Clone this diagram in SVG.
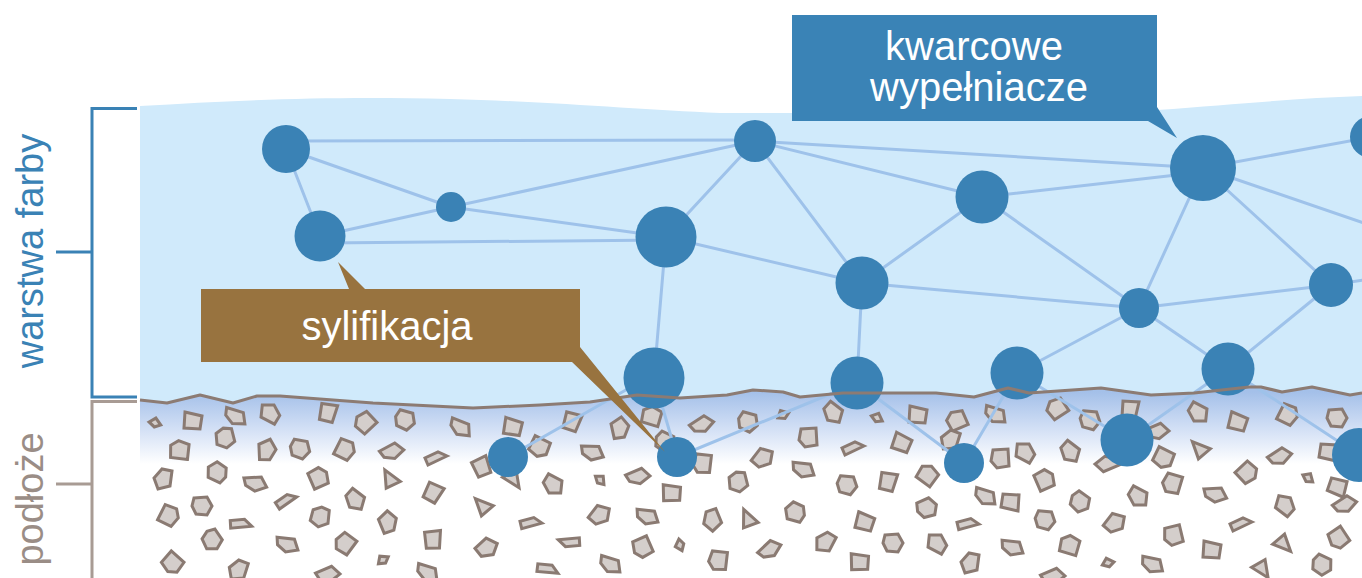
<svg xmlns="http://www.w3.org/2000/svg" xmlns:xlink="http://www.w3.org/1999/xlink" width="1362" height="578" viewBox="0 0 1362 578">
  <style>
    .filler { fill: #3a82b5; }
    .bond { stroke: #9ec2ea; stroke-width: 3; fill: none; stroke-linecap: round; }
    .peb { fill: #d4cecb; stroke: #8a7a72; stroke-width: 3; stroke-linejoin: miter; }
    .lbl { font-family: "Liberation Sans", Arial, sans-serif; }
    .callout-text { fill: #ffffff; font-size: 40px; text-anchor: middle; }
  </style>
  <defs>
    <linearGradient id="penetration" gradientUnits="userSpaceOnUse" x1="0" y1="392" x2="0" y2="464">
      <stop offset="0" stop-color="#a4c0e9"/>
      <stop offset="0.55" stop-color="#d6e2f6"/>
      <stop offset="1" stop-color="#ffffff"/>
    </linearGradient>
    <!-- pebble outlines used for the mineral substrate -->
    <polygon id="p0" class="peb" points="-9,-8 8,-9 10,3 3,9 -8,7"/>
    <polygon id="p1" class="peb" points="-8,-9 7,-7 10,5 -1,9 -10,1"/>
    <polygon id="p2" class="peb" points="-12,-4 5,-8 12,1 1,7 -9,3"/>
    <polygon id="p3" class="peb" points="-9,-7 10,-3 0,9"/>
    <polygon id="p4" class="peb" points="-8,-9 9,-5 7,8 -9,7"/>
    <polygon id="p5" class="peb" points="-6,0 0,-5 6,1 0,4"/>
    <polygon id="p6" class="peb" points="-12,1 7,-8 10,-1 -3,5"/>
    <polygon id="p7" class="peb" points="-8,-8 5,-9 10,0 5,9 -6,8 -10,0"/>
  </defs>

  <rect width="1362" height="578" fill="#ffffff"/>

  <!-- paint layer body -->
  <path id="paint-layer" fill="#d0eafb" d="M140,106 C240,100 330,96 450,99 C560,102 640,110 720,113 L800,113 L1157,110 C1240,104 1300,98 1362,96 L1362,393 L1350,395 L1312,387 L1282,392 L1261,387 L1249,387 L1194,393 L1151,395 L1101,388 L1029,393 L1008,388 L974,397 L936,393 L886,393 L843,393 L800,397 L783,392 L753,390 L727,395 L680,398 L637,395 L590,402 L540,405 L473,408 L373,403 L280,396 L257,396 L233,403 L200,395 L167,403 L140,400 Z"/>

  <!-- penetration zone in the substrate -->
  <path id="penetration-zone" fill="url(#penetration)" d="M140,400 L167,403 L200,395 L233,403 L257,396 L280,396 L373,403 L473,408 L540,405 L590,402 L637,395 L680,398 L727,395 L753,390 L783,392 L800,397 L843,393 L886,393 L936,393 L974,397 L1008,388 L1029,393 L1101,388 L1151,395 L1194,393 L1249,387 L1261,387 L1282,392 L1312,387 L1350,395 L1362,393 L1362,466 L140,466 Z"/>

  <!-- substrate grains -->
  <g id="substrate-grains">
    <use href="#p5" transform="translate(155,423) rotate(10)"/>
    <use href="#p4" transform="translate(193,421) rotate(0)"/>
    <use href="#p2" transform="translate(235,417) rotate(30)"/>
    <use href="#p1" transform="translate(270,413) rotate(200)"/>
    <use href="#p4" transform="translate(328,413) rotate(95)"/>
    <use href="#p0" transform="translate(365,422) rotate(140)"/>
    <use href="#p7" transform="translate(405,420) rotate(20)"/>
    <use href="#p2" transform="translate(460,428) rotate(35)"/>
    <use href="#p4" transform="translate(513,427) rotate(5)"/>
    <use href="#p7" transform="translate(225,438) rotate(80)"/>
    <use href="#p0" transform="translate(180,450) rotate(190)"/>
    <use href="#p1" transform="translate(267,450) rotate(260)"/>
    <use href="#p7" transform="translate(300,449) rotate(15)"/>
    <use href="#p0" transform="translate(345,450) rotate(300)"/>
    <use href="#p2" transform="translate(392,452) rotate(-15)"/>
    <use href="#p6" transform="translate(435,457) rotate(180)"/>
    <use href="#p4" transform="translate(482,467) rotate(60)"/>
    <use href="#p3" transform="translate(513,478) rotate(200)"/>
    <use href="#p0" transform="translate(539,447) rotate(30)"/>
    <use href="#p1" transform="translate(163,479) rotate(90)"/>
    <use href="#p7" transform="translate(217,472) rotate(210)"/>
    <use href="#p2" transform="translate(255,484) rotate(10)"/>
    <use href="#p0" transform="translate(319,478) rotate(250)"/>
    <use href="#p3" transform="translate(390,480) rotate(25)"/>
    <use href="#p4" transform="translate(433,493) rotate(110)"/>
    <use href="#p6" transform="translate(285,500) rotate(170)"/>
    <use href="#p1" transform="translate(355,500) rotate(30)"/>
    <use href="#p7" transform="translate(202,506) rotate(0)"/>
    <use href="#p0" transform="translate(169,516) rotate(300)"/>
    <use href="#p6" transform="translate(240,523) rotate(200)"/>
    <use href="#p7" transform="translate(320,517) rotate(100)"/>
    <use href="#p1" transform="translate(388,522) rotate(240)"/>
    <use href="#p3" transform="translate(483,507) rotate(10)"/>
    <use href="#p6" transform="translate(530,522) rotate(190)"/>
    <use href="#p7" transform="translate(212,540) rotate(60)"/>
    <use href="#p2" transform="translate(287,545) rotate(20)"/>
    <use href="#p0" transform="translate(345,543) rotate(130)"/>
    <use href="#p5" transform="translate(383,560) rotate(-40)"/>
    <use href="#p4" transform="translate(433,540) rotate(80)"/>
    <use href="#p1" transform="translate(487,548) rotate(310)"/>
    <use href="#p0" transform="translate(172,563) rotate(45)"/>
    <use href="#p1" transform="translate(238,570) rotate(100)"/>
    <use href="#p2" transform="translate(328,575) rotate(-10)"/>
    <use href="#p2" transform="translate(427,573) rotate(30)"/>

    <use href="#p4" transform="translate(572,422) rotate(100)"/>
    <use href="#p1" transform="translate(620,428) rotate(250)"/>
    <use href="#p0" transform="translate(652,416) rotate(200)"/>
    <use href="#p2" transform="translate(702,425) rotate(-20)"/>
    <use href="#p7" transform="translate(748,422) rotate(20)"/>
    <use href="#p5" transform="translate(783,415) rotate(-30)"/>
    <use href="#p0" transform="translate(808,437) rotate(90)"/>
    <use href="#p1" transform="translate(833,413) rotate(30)"/>
    <use href="#p5" transform="translate(877,418) rotate(20)"/>
    <use href="#p4" transform="translate(918,415) rotate(0)"/>
    <use href="#p0" transform="translate(957,420) rotate(160)"/>
    <use href="#p2" transform="translate(592,453) rotate(15)"/>
    <use href="#p7" transform="translate(665,442) rotate(30)"/>
    <use href="#p0" transform="translate(702,463) rotate(100)"/>
    <use href="#p1" transform="translate(763,458) rotate(300)"/>
    <use href="#p2" transform="translate(803,470) rotate(20)"/>
    <use href="#p6" transform="translate(852,447) rotate(180)"/>
    <use href="#p4" transform="translate(902,443) rotate(15)"/>
    <use href="#p1" transform="translate(950,440) rotate(100)"/>
    <use href="#p1" transform="translate(553,485) rotate(20)"/>
    <use href="#p5" transform="translate(600,480) rotate(40)"/>
    <use href="#p2" transform="translate(638,477) rotate(-10)"/>
    <use href="#p4" transform="translate(672,493) rotate(-5)"/>
    <use href="#p7" transform="translate(738,482) rotate(80)"/>
    <use href="#p7" transform="translate(847,485) rotate(10)"/>
    <use href="#p4" transform="translate(888,482) rotate(95)"/>
    <use href="#p0" transform="translate(928,475) rotate(220)"/>
    <use href="#p1" transform="translate(600,515) rotate(300)"/>
    <use href="#p2" transform="translate(647,517) rotate(20)"/>
    <use href="#p1" transform="translate(712,520) rotate(60)"/>
    <use href="#p3" transform="translate(748,520) rotate(30)"/>
    <use href="#p7" transform="translate(795,512) rotate(200)"/>
    <use href="#p4" transform="translate(865,522) rotate(10)"/>
    <use href="#p7" transform="translate(927,508) rotate(340)"/>
    <use href="#p6" transform="translate(570,543) rotate(20)"/>
    <use href="#p0" transform="translate(642,547) rotate(70)"/>
    <use href="#p5" transform="translate(680,545) rotate(250)"/>
    <use href="#p0" transform="translate(718,560) rotate(100)"/>
    <use href="#p2" transform="translate(770,550) rotate(-30)"/>
    <use href="#p1" transform="translate(825,542) rotate(110)"/>
    <use href="#p7" transform="translate(893,543) rotate(0)"/>
    <use href="#p1" transform="translate(937,543) rotate(200)"/>
    <use href="#p6" transform="translate(547,568) rotate(210)"/>
    <use href="#p2" transform="translate(610,565) rotate(30)"/>
    <use href="#p4" transform="translate(860,562) rotate(-5)"/>

    <use href="#p2" transform="translate(995,415) rotate(30)"/>
    <use href="#p0" transform="translate(1057,408) rotate(150)"/>
    <use href="#p7" transform="translate(1090,420) rotate(10)"/>
    <use href="#p4" transform="translate(1130,410) rotate(90)"/>
    <use href="#p2" transform="translate(1157,432) rotate(-10)"/>
    <use href="#p1" transform="translate(1198,413) rotate(20)"/>
    <use href="#p4" transform="translate(1238,422) rotate(10)"/>
    <use href="#p0" transform="translate(1288,415) rotate(300)"/>
    <use href="#p7" transform="translate(1337,418) rotate(0)"/>
    <use href="#p0" transform="translate(1000,458) rotate(90)"/>
    <use href="#p1" transform="translate(1025,452) rotate(200)"/>
    <use href="#p1" transform="translate(1070,452) rotate(30)"/>
    <use href="#p2" transform="translate(1107,463) rotate(170)"/>
    <use href="#p0" transform="translate(1163,458) rotate(30)"/>
    <use href="#p3" transform="translate(1200,450) rotate(10)"/>
    <use href="#p2" transform="translate(1280,457) rotate(-20)"/>
    <use href="#p4" transform="translate(1328,452) rotate(180)"/>
    <use href="#p0" transform="translate(1045,480) rotate(250)"/>
    <use href="#p2" transform="translate(985,497) rotate(30)"/>
    <use href="#p4" transform="translate(1010,502) rotate(180)"/>
    <use href="#p7" transform="translate(1080,502) rotate(40)"/>
    <use href="#p1" transform="translate(1138,497) rotate(20)"/>
    <use href="#p0" transform="translate(1172,483) rotate(110)"/>
    <use href="#p2" transform="translate(1215,495) rotate(10)"/>
    <use href="#p0" transform="translate(1247,473) rotate(320)"/>
    <use href="#p5" transform="translate(1308,478) rotate(30)"/>
    <use href="#p4" transform="translate(1337,487) rotate(190)"/>
    <use href="#p1" transform="translate(1285,505) rotate(210)"/>
    <use href="#p2" transform="translate(1345,505) rotate(-20)"/>
    <use href="#p6" transform="translate(967,523) rotate(190)"/>
    <use href="#p7" transform="translate(1045,520) rotate(10)"/>
    <use href="#p1" transform="translate(1115,523) rotate(300)"/>
    <use href="#p0" transform="translate(1173,535) rotate(80)"/>
    <use href="#p6" transform="translate(1240,523) rotate(180)"/>
    <use href="#p2" transform="translate(1012,548) rotate(20)"/>
    <use href="#p0" transform="translate(1070,545) rotate(200)"/>
    <use href="#p4" transform="translate(1212,550) rotate(0)"/>
    <use href="#p3" transform="translate(1283,543) rotate(190)"/>
    <use href="#p0" transform="translate(1338,538) rotate(60)"/>
    <use href="#p1" transform="translate(970,563) rotate(90)"/>
    <use href="#p5" transform="translate(1108,563) rotate(-20)"/>
    <use href="#p2" transform="translate(1152,565) rotate(25)"/>
    <use href="#p3" transform="translate(1262,568) rotate(200)"/>
    <use href="#p7" transform="translate(1322,565) rotate(30)"/>
    <use href="#p2" transform="translate(1053,577) rotate(-10)"/>
  </g>

  <!-- bonds between filler particles -->
  <g id="bonds">
    <line class="bond" x1="290" y1="141" x2="755" y2="140"/>
    <line class="bond" x1="286" y1="149" x2="451" y2="207"/>
    <line class="bond" x1="286" y1="149" x2="320" y2="236"/>
    <line class="bond" x1="320" y1="236" x2="451" y2="207"/>
    <line class="bond" x1="325" y1="243" x2="665" y2="240"/>
    <line class="bond" x1="451" y1="207" x2="666" y2="237"/>
    <line class="bond" x1="451" y1="207" x2="755" y2="141"/>
    <line class="bond" x1="666" y1="237" x2="755" y2="141"/>
    <line class="bond" x1="666" y1="237" x2="862" y2="283"/>
    <line class="bond" x1="666" y1="237" x2="654" y2="378"/>
    <line class="bond" x1="755" y1="141" x2="862" y2="283"/>
    <line class="bond" x1="755" y1="141" x2="982" y2="197"/>
    <line class="bond" x1="755" y1="141" x2="1203" y2="168"/>
    <line class="bond" x1="862" y1="283" x2="982" y2="197"/>
    <line class="bond" x1="862" y1="283" x2="1139" y2="308"/>
    <line class="bond" x1="862" y1="283" x2="857" y2="383"/>
    <line class="bond" x1="982" y1="197" x2="1203" y2="172"/>
    <line class="bond" x1="982" y1="197" x2="1139" y2="308"/>
    <line class="bond" x1="1203" y1="168" x2="1139" y2="308"/>
    <line class="bond" x1="1203" y1="168" x2="1331" y2="285"/>
    <line class="bond" x1="1203" y1="168" x2="1371" y2="137"/>
    <line class="bond" x1="1203" y1="168" x2="1364" y2="223"/>
    <line class="bond" x1="1139" y1="308" x2="1331" y2="285"/>
    <line class="bond" x1="1139" y1="308" x2="1017" y2="373"/>
    <line class="bond" x1="1139" y1="308" x2="1228" y2="369"/>
    <line class="bond" x1="1331" y1="285" x2="1228" y2="369"/>
    <line class="bond" x1="1331" y1="285" x2="1364" y2="280"/>
    <line class="bond" x1="654" y1="374" x2="508" y2="457"/>
    <line class="bond" x1="654" y1="378" x2="677" y2="457"/>
    <line class="bond" x1="857" y1="383" x2="677" y2="457"/>
    <line class="bond" x1="857" y1="383" x2="964" y2="463"/>
    <line class="bond" x1="1017" y1="373" x2="964" y2="463"/>
    <line class="bond" x1="1017" y1="373" x2="1127" y2="440"/>
    <line class="bond" x1="1228" y1="369" x2="1127" y2="440"/>
    <line class="bond" x1="1228" y1="369" x2="1359" y2="455"/>
  </g>

  <!-- quartz filler particles -->
  <g id="filler-1"><circle class="filler" cx="286" cy="149" r="24"/></g>
  <g id="filler-2"><circle class="filler" cx="320" cy="236" r="25.5"/></g>
  <g id="filler-3"><circle class="filler" cx="451" cy="207" r="15"/></g>
  <g id="filler-4"><circle class="filler" cx="666" cy="237" r="30.5"/></g>
  <g id="filler-5"><circle class="filler" cx="755" cy="141" r="21"/></g>
  <g id="filler-6"><circle class="filler" cx="654" cy="378" r="30.5"/></g>
  <g id="filler-7"><circle class="filler" cx="862" cy="283" r="26.5"/></g>
  <g id="filler-8"><circle class="filler" cx="982" cy="197" r="26.5"/></g>
  <g id="filler-9"><circle class="filler" cx="1203" cy="168" r="33"/></g>
  <g id="filler-10"><circle class="filler" cx="1139" cy="308" r="20"/></g>
  <g id="filler-11"><circle class="filler" cx="1331" cy="285" r="22"/></g>
  <g id="filler-12"><circle class="filler" cx="1371" cy="137" r="21"/></g>
  <g id="filler-13"><circle class="filler" cx="857" cy="383" r="26.5"/></g>
  <g id="filler-14"><circle class="filler" cx="1017" cy="373" r="26.5"/></g>
  <g id="filler-15"><circle class="filler" cx="1228" cy="369" r="26.5"/></g>
  <g id="filler-16"><circle class="filler" cx="508" cy="457" r="20"/></g>
  <g id="filler-17"><circle class="filler" cx="677" cy="457" r="20"/></g>
  <g id="filler-18"><circle class="filler" cx="964" cy="463" r="20"/></g>
  <g id="filler-19"><circle class="filler" cx="1127" cy="440" r="26.5"/></g>
  <g id="filler-20"><circle class="filler" cx="1359" cy="455" r="27"/></g>

  <!-- paint / substrate interface -->
  <polyline id="interface" fill="none" stroke="#8c7b73" stroke-width="3" stroke-linejoin="round" points="140,400 167,403 200,395 233,403 257,396 280,396 373,403 473,408 540,405 590,402 637,395 680,398 727,395 753,390 783,392 800,397 843,393 886,393 936,393 974,397 1008,388 1029,393 1101,388 1151,395 1194,393 1249,387 1261,387 1282,392 1312,387 1350,395 1362,393"/>

  <!-- layer brackets -->
  <g id="bracket-paint">
    <path d="M137,108.5 H92 V397 H137 M56,252 H92" fill="none" stroke="#3a82b5" stroke-width="3"/>
    <text class="lbl" transform="translate(43,251) rotate(-90)" text-anchor="middle" font-size="38" fill="#3a82b5">warstwa farby</text>
  </g>
  <g id="bracket-substrate">
    <path d="M137,401.5 H92 V578 M56,484 H92" fill="none" stroke="#a89b94" stroke-width="3"/>
    <text class="lbl" transform="translate(43,499) rotate(-90)" text-anchor="middle" font-size="38" fill="#9a8d86">podłoże</text>
  </g>

  <!-- callouts -->
  <g id="callout-fillers">
    <path d="M792,15 H1157 V107 L1177,138 L1148,121 H792 Z" fill="#3a83b6"/>
    <text class="lbl callout-text" x="974" y="60" font-size="41">kwarcowe</text>
    <text class="lbl callout-text" x="979" y="101" font-size="41">wypełniacze</text>
  </g>
  <g id="callout-silification">
    <path d="M201,289 H349 L338,262 L365,289 H580 V347 L665,452 L572,362 H201 Z" fill="#98733f"/>
    <text class="lbl callout-text" x="387" y="340" font-size="40">sylifikacja</text>
  </g>
</svg>
